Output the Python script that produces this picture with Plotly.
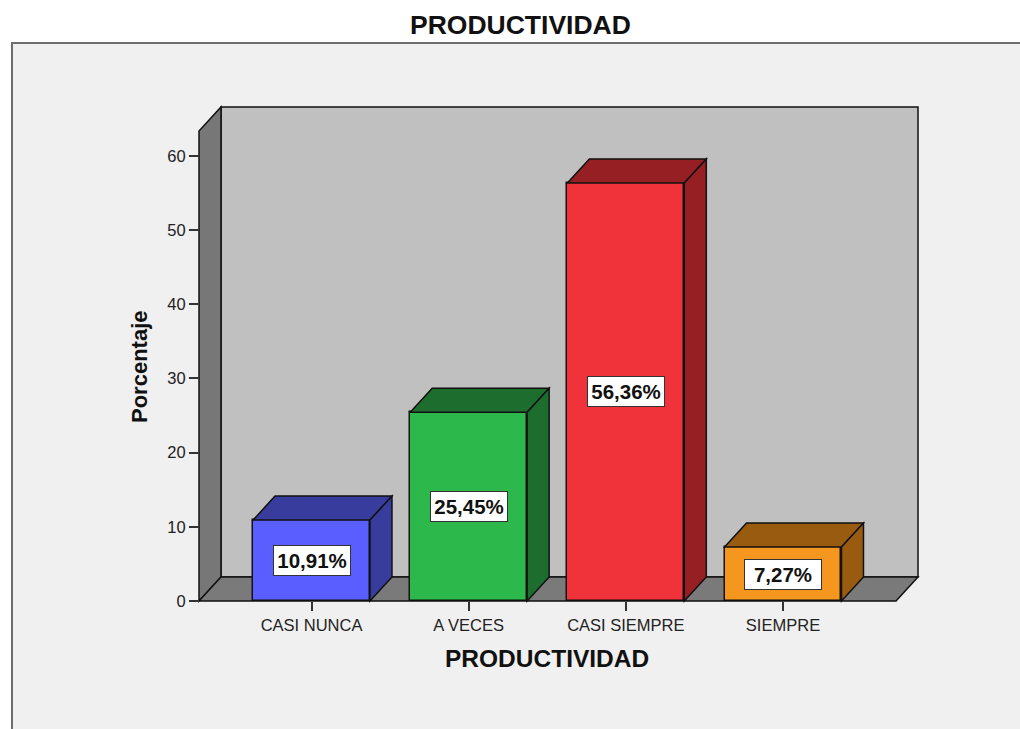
import plotly.graph_objects as go

# ---------------- data ----------------
categories = ["CASI NUNCA", "A VECES", "CASI SIEMPRE", "SIEMPRE"]
percentages = [10.91, 25.45, 56.36, 7.27]
front_colors = ["#5B5EFF", "#2DB84B", "#F0323A", "#F5971E"]
shade_colors = ["#383C9C", "#1D6E2E", "#961F24", "#985B10"]
y_ticks = [0, 10, 20, 30, 40, 50, 60]
chart_title = "PRODUCTIVIDAD"
x_title = "PRODUCTIVIDAD"
y_title = "Porcentaje"

# ---------------- layout geometry (screen pixels; page body margin removed) ----------------
BODY = 0
W, H = 1020, 729
X0_PX, X_STEP_PX = 311.5, 157.17      # screen pixel of first category, px per category
Y0_PX, Y_UNIT_PX = 601, 7.417         # screen pixel of value 0, px per percent
LEFT_PX, RIGHT_PX, TOP_PX = 199, 918, 107
DEPTH_X_PX, DEPTH_Y_PX = 22, 24
PAD = 8
BAR_W = 0.744

ML = LEFT_PX - PAD - BODY
MR = W - (RIGHT_PX + PAD - BODY)
MT = TOP_PX - PAD - BODY
MB = H - (Y0_PX + PAD - BODY)
PW = W - ML - MR
PH = H - MT - MB


def data_x(px):
    return (px - X0_PX) / X_STEP_PX


def data_y(py):
    return (Y0_PX - py) / Y_UNIT_PX


def paper_x(px):
    return (px - BODY - ML) / PW


def paper_y(py):
    return (H - MB - (py - BODY)) / PH


x_range = [data_x(LEFT_PX - PAD), data_x(RIGHT_PX + PAD)]
y_range = [data_y(Y0_PX + PAD), data_y(TOP_PX - PAD)]
DX = DEPTH_X_PX / X_STEP_PX
DY = DEPTH_Y_PX / Y_UNIT_PX
xL = data_x(LEFT_PX)
xRb = data_x(RIGHT_PX)
xB = xL + DX
xRf = xRb - DX
yTop = data_y(TOP_PX)

EDGE = dict(color="#111111", width=1.5)

shapes = []
# outer chart frame
shapes.append(dict(type="rect", xref="paper", yref="paper", layer="below",
                   x0=paper_x(12), x1=paper_x(1060), y0=paper_y(780), y1=paper_y(43),
                   fillcolor="#F0F0F0", line=dict(color="#6E6E6E", width=2)))
# back wall
shapes.append(dict(type="rect", xref="x", yref="y", layer="below",
                   x0=xB, x1=xRb, y0=DY, y1=yTop,
                   fillcolor="#C0C0C0", line=EDGE))
# left wall
shapes.append(dict(type="path", xref="x", yref="y", layer="below",
                   path=f"M{xL},0 L{xB},{DY} L{xB},{yTop} L{xL},{yTop - DY} Z",
                   fillcolor="#777777", line=EDGE))
# floor
shapes.append(dict(type="path", xref="x", yref="y", layer="below",
                   path=f"M{xL},0 L{xRf},0 L{xRb},{DY} L{xB},{DY} Z",
                   fillcolor="#7A7A7A", line=EDGE))

# 3D top and side faces of the bars
for i, v in enumerate(percentages):
    x0, x1 = i - BAR_W / 2, i + BAR_W / 2
    shapes.append(dict(type="path", xref="x", yref="y", layer="above",
                       path=f"M{x0},{v} L{x1},{v} L{x1 + DX},{v + DY} L{x0 + DX},{v + DY} Z",
                       fillcolor=shade_colors[i], line=EDGE))
    shapes.append(dict(type="path", xref="x", yref="y", layer="above",
                       path=f"M{x1},0 L{x1 + DX},{DY} L{x1 + DX},{v + DY} L{x1},{v} Z",
                       fillcolor=shade_colors[i], line=EDGE))

fig = go.Figure()
fig.add_trace(go.Bar(
    x=list(range(len(categories))), y=percentages, width=BAR_W,
    marker=dict(color=front_colors, line=dict(color="#111111", width=1.5)),
    hoverinfo="skip", showlegend=False,
))

FONT = "Liberation Sans, Arial, sans-serif"
annotations = []
for i, v in enumerate(percentages):
    annotations.append(dict(
        x=i, y=v / 2, xref="x", yref="y",
        text="<b>" + f"{v:.2f}".replace(".", ",") + "%</b>",
        showarrow=False, font=dict(family=FONT, size=20.5, color="#111111"),
        bgcolor="#FFFFFF", bordercolor="#333333", borderwidth=1, borderpad=1,
        width=74, height=27, xanchor="center", yanchor="middle"))

annotations.append(dict(x=paper_x(520), y=paper_y(25), xref="paper", yref="paper",
                        text=f"<b>{chart_title}</b>", showarrow=False,
                        font=dict(family=FONT, size=26.5, color="#111111"),
                        xanchor="center", yanchor="middle"))
annotations.append(dict(x=paper_x(547), y=paper_y(658), xref="paper", yref="paper",
                        text=f"<b>{x_title}</b>", showarrow=False,
                        font=dict(family=FONT, size=24.5, color="#111111"),
                        xanchor="center", yanchor="middle"))
annotations.append(dict(x=paper_x(139), y=paper_y(367), xref="paper", yref="paper",
                        text=f"<b>{y_title}</b>", showarrow=False, textangle=-90,
                        font=dict(family=FONT, size=22, color="#111111"),
                        xanchor="center", yanchor="middle"))

fig.update_layout(
    width=W, height=H,
    margin=dict(l=ML, r=MR, t=MT, b=MB, autoexpand=False),
    paper_bgcolor="#FFFFFF", plot_bgcolor="rgba(0,0,0,0)",
    shapes=shapes, annotations=annotations, bargap=0,
    xaxis=dict(range=x_range, tickvals=list(range(len(categories))), ticktext=categories,
               ticks="outside", ticklen=9, tickwidth=1.5, tickcolor="#333333",
               showgrid=False, zeroline=False, showline=False,
               anchor="free", position=PAD / PH,
               tickfont=dict(family=FONT, size=16.5, color="#222222")),
    yaxis=dict(range=y_range, tickvals=y_ticks, ticks="outside", ticklen=10,
               tickwidth=1.5, tickcolor="#333333",
               showgrid=False, zeroline=False, showline=False,
               anchor="free", position=PAD / PW,
               tickfont=dict(family=FONT, size=16.5, color="#222222")),
)

fig.write_html("out.html",
               config={"displayModeBar": False},
               post_script="document.body.style.margin='0';document.body.style.overflow='hidden';")
